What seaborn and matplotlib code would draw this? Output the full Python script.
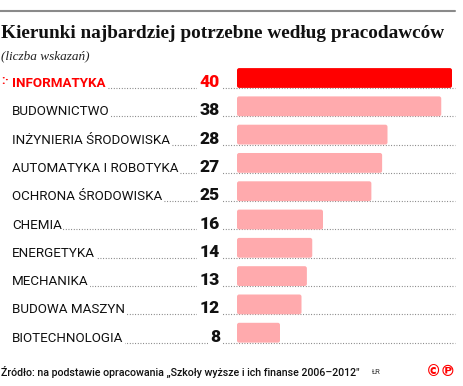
import matplotlib
matplotlib.use("Agg")
import matplotlib.pyplot as plt
import seaborn as sns
import pandas as pd
from matplotlib.transforms import blended_transform_factory
from matplotlib.patches import FancyBboxPatch

categories = ["INFORMATYKA", "BUDOWNICTWO", "INŻYNIERIA ŚRODOWISKA", "AUTOMATYKA I ROBOTYKA",
              "OCHRONA ŚRODOWISKA", "CHEMIA", "ENERGETYKA", "MECHANIKA", "BUDOWA MASZYN",
              "BIOTECHNOLOGIA"]
values = [40, 38, 28, 27, 25, 16, 14, 13, 12, 8]
title = "Kierunki najbardziej potrzebne według pracodawców"
subtitle = "(liczba wskazań)"
source = "Źródło: na podstawie opracowania „Szkoły wyższe i ich finanse 2006–2012\""

RED = "#ff0000"
PINK = "#ffaaad"

df = pd.DataFrame({"kierunek": categories, "liczba": values})
colors = {c: (RED if i == 0 else PINK) for i, c in enumerate(categories)}

sns.set_theme(style="white")
plt.rcParams["font.family"] = ["Roboto", "DejaVu Sans"]

W, H = 464, 386
fig = plt.figure(figsize=(W / 100, H / 100), dpi=100)

top_px, bot_px = 50, 360
ax = fig.add_axes([0, 1 - bot_px / H, 1, (bot_px - top_px) / H])

sns.barplot(data=df, y="kierunek", x="liczba", hue="kierunek", palette=colors,
            orient="h", width=0.7, legend=False, ax=ax, saturation=1, zorder=3)

x0_px, scale = 237, 5.375
ax.set_xlim(-x0_px / scale, (W - x0_px) / scale)
row0_px, row_step = 78, 28.3
ax.set_ylim((bot_px - row0_px) / row_step, (top_px - row0_px) / row_step)
ax.axis("off")

for p in list(ax.patches):
    x, y, w, h = p.get_x(), p.get_y(), p.get_width(), p.get_height()
    fc = p.get_facecolor()
    p.remove()
    fb = FancyBboxPatch((x, y), w, h, boxstyle="round,pad=0,rounding_size=0.4",
                        mutation_aspect=0.19, fc=fc, ec="none", zorder=3)
    ax.add_patch(fb)

tr = blended_transform_factory(fig.transFigure, ax.transData)
for i, (c, v) in enumerate(zip(categories, values)):
    yb = i + 0.35
    ax.plot([12 / W, 455 / W], [yb, yb], transform=tr, color="#777777",
            lw=0.8, ls=(0, (0.8, 1.6)), zorder=1)
    col = RED if i == 0 else "#111111"
    ax.text(12 / W, yb - 0.03, c, transform=tr, ha="left", va="baseline",
            fontsize=9.6, color=col, fontweight="bold" if i == 0 else "normal",
            zorder=2, bbox=dict(fc="white", ec="none", pad=1.2))
    ax.text(220 / W, yb - 0.03, str(v), transform=tr, ha="right", va="baseline",
            fontsize=12.5, color=col, fontweight="heavy", zorder=2,
            bbox=dict(fc="white", ec="none", pad=1.6))

fig.text(1 / W, 1 - 80 / H, ":", color=RED, fontsize=9, fontweight="bold", va="center", ha="left")
fig.text(4.5 / W, 1 - 80 / H, "·", color=RED, fontsize=9, fontweight="bold", va="center", ha="left")

fig.add_artist(plt.Line2D([0, 455 / W], [1 - 11 / H, 1 - 11 / H], color="#8a8a8a", lw=1.5))

fig.text(1 / W, 1 - 33 / H, title, fontsize=13.9, fontweight="bold",
         family=["Liberation Serif", "DejaVu Serif"], va="center", ha="left", color="#111111")
fig.text(1 / W, 1 - 56 / H, subtitle, fontsize=9.5, style="italic",
         family=["Liberation Serif", "DejaVu Serif"], va="center", ha="left", color="#222222")

fig.text(1 / W, 1 - 372 / H, source, fontsize=7.7, va="center", ha="left",
         color="#111111", fontweight="medium")
fig.text(372 / W, 1 - 372 / H, "ŁR", fontsize=5.5, va="center", ha="left", color="#333333")
fig.text(456 / W, 1 - 371 / H, "©℗", fontsize=11, va="center", ha="right", color=RED,
         family=["DejaVu Sans"], fontweight="bold")

fig.savefig("out.png", dpi=100)
